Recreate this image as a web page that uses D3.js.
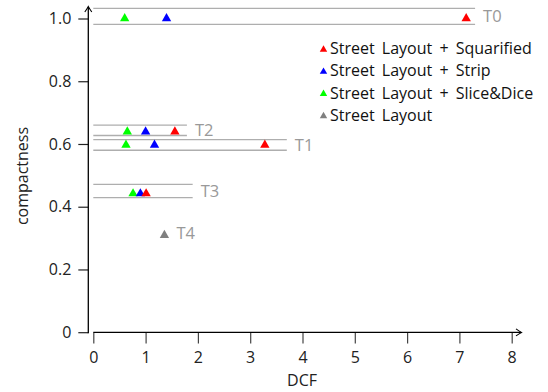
<!DOCTYPE html>
<html><head><meta charset="utf-8">
<script src="https://cdn.jsdelivr.net/npm/d3@7"></script>
<style>
body{margin:0;background:#fff}
svg{display:block}
text{font-family:"Open Sans",Lato,sans-serif}
</style></head>
<body>
<svg id="chart" width="548" height="392"></svg>
<script>
// ---- data ----
const trees = ["T0", "T1", "T2", "T3"];
const bandLow  = [0.981, 0.580, 0.627, 0.429];
const bandHigh = [1.032, 0.614, 0.660, 0.471];
const bandEnd  = [7.30, 3.70, 1.79, 1.90];

const seriesNames = ["Street Layout + Squarified", "Street Layout + Strip", "Street Layout + Slice&Dice", "Street Layout"];
const seriesColors = ["#ff0000", "#0000ff", "#00ff00", "#808080"];

const squarifiedDCF = [7.13, 3.28, 1.56, 1.01];
const squarifiedCmp = [1.0, 0.597, 0.639, 0.442];
const stripDCF = [1.40, 1.17, 1.00, 0.90];
const stripCmp = [1.0, 0.597, 0.639, 0.442];
const sliceDCF = [0.60, 0.625, 0.65, 0.76];
const sliceCmp = [1.0, 0.597, 0.639, 0.442];
const streetLabels = ["T4"];
const streetDCF = [1.36];
const streetCmp = [0.309];

const xTicks = [0, 1, 2, 3, 4, 5, 6, 7, 8];
const yTicks = [0, 0.2, 0.4, 0.6, 0.8, 1.0];
const yTickLabels = ["0", "0.2", "0.4", "0.6", "0.8", "1.0"];

// ---- drawing ----
const svg = d3.select("#chart");
const x = d3.scaleLinear().domain([0, 8]).range([93.3, 511.7]);
const y = d3.scaleLinear().domain([0, 1]).range([332.2, 18.5]);
const yAxisX = 88.3;
const xAxisY = 332.4;
const FS = 16;

// bands
const bands = trees.map((t, i) => ({t, lo: bandLow[i], hi: bandHigh[i], end: bandEnd[i]}));
const bandG = svg.append("g");
bands.forEach(b => {
  [b.lo, b.hi].forEach(v => {
    bandG.append("line")
      .attr("x1", x(0)).attr("x2", x(b.end))
      .attr("y1", y(v)).attr("y2", y(v))
      .attr("stroke", "#aeaeae").attr("stroke-width", 1.3);
  });
  bandG.append("text")
    .attr("x", x(b.end) + 8).attr("y", y((b.lo + b.hi) / 2))
    .attr("dy", "0.36em")
    .attr("fill", "#999").attr("font-size", 16.5)
    .text(b.t);
});

// axes
const axisColor = "#222";
const yAxis = svg.append("g").attr("transform", `translate(${yAxisX},0)`)
  .call(d3.axisLeft(y).tickValues(yTicks).tickFormat((d, i) => yTickLabels[i]).tickSize(10).tickPadding(7));
yAxis.select(".domain").remove();
yAxis.selectAll(".tick line").attr("stroke", axisColor).attr("stroke-width", 1.2);
yAxis.selectAll(".tick text").attr("font-size", FS).attr("fill", "#222").attr("font-family", "Open Sans");

const xAxis = svg.append("g").attr("transform", `translate(0,${xAxisY})`)
  .call(d3.axisBottom(x).tickValues(xTicks).tickFormat(d3.format("d")).tickSize(11).tickPadding(8));
xAxis.select(".domain").remove();
xAxis.selectAll(".tick line").attr("stroke", "#444").attr("stroke-width", 1.2);
xAxis.selectAll(".tick text").attr("font-size", FS).attr("fill", "#222").attr("font-family", "Open Sans");

// axis lines with arrows
svg.append("line").attr("x1", yAxisX).attr("x2", yAxisX).attr("y1", xAxisY + 0.8).attr("y2", 7)
  .attr("stroke", "#000").attr("stroke-width", 1.3);
svg.append("path").attr("d", `M${yAxisX - 3.5},${12} Q${yAxisX - 1},${8.5} ${yAxisX},${6.5} Q${yAxisX + 1},${8.5} ${yAxisX + 3.5},${12}`)
  .attr("fill", "none").attr("stroke", "#000").attr("stroke-width", 1.1);
svg.append("line").attr("x1", x(0)).attr("x2", 521).attr("y1", xAxisY).attr("y2", xAxisY)
  .attr("stroke", "#000").attr("stroke-width", 1.3);
svg.append("path").attr("d", `M516,${xAxisY - 3.5} Q519.5,${xAxisY - 1} 521.5,${xAxisY} Q519.5,${xAxisY + 1} 516,${xAxisY + 3.5}`)
  .attr("fill", "none").attr("stroke", "#000").attr("stroke-width", 1.1);

// axis titles
svg.append("text").attr("x", 302).attr("y", 380).attr("dy", "0.36em").attr("text-anchor", "middle")
  .attr("font-size", FS).attr("fill", "#222").text("DCF");
svg.append("text").attr("transform", "translate(22,176) rotate(-90)").attr("dy", "0.36em").attr("text-anchor", "middle")
  .attr("font-size", FS).attr("fill", "#222").text("compactness");

// markers
const tri = d3.symbol().type(d3.symbolTriangle).size(38);
const series = [
  {dcf: squarifiedDCF, cmp: squarifiedCmp, color: seriesColors[0]},
  {dcf: stripDCF, cmp: stripCmp, color: seriesColors[1]},
  {dcf: sliceDCF, cmp: sliceCmp, color: seriesColors[2]},
  {dcf: streetDCF, cmp: streetCmp, color: seriesColors[3]}
];
[2, 1, 0, 3].forEach(si => {
  const s = series[si];
  svg.append("g").selectAll("path").data(s.dcf.map((d, i) => [d, s.cmp[i]])).join("path")
    .attr("d", tri)
    .attr("transform", d => `translate(${x(d[0])},${y(d[1])})`)
    .attr("fill", s.color);
});
streetLabels.forEach((t, i) => {
  svg.append("text").attr("x", x(streetDCF[i]) + 12).attr("y", y(streetCmp[i]) - 2)
    .attr("dy", "0.36em").attr("fill", "#999").attr("font-size", 16.5).text(t);
});

// legend
const legTri = d3.symbol().type(d3.symbolTriangle).size(24);
const leg = svg.append("g");
seriesNames.forEach((n, i) => {
  const yy = 48.5 + i * 22.2;
  leg.append("path").attr("d", legTri).attr("transform", `translate(323.5,${yy + 1})`).attr("fill", seriesColors[i]);
  leg.append("text").attr("x", 330).attr("y", yy).attr("dy", "0.36em").attr("font-size", FS)
    .attr("word-spacing", 3).attr("fill", "#111").text(n);
});
</script>
</body></html>
